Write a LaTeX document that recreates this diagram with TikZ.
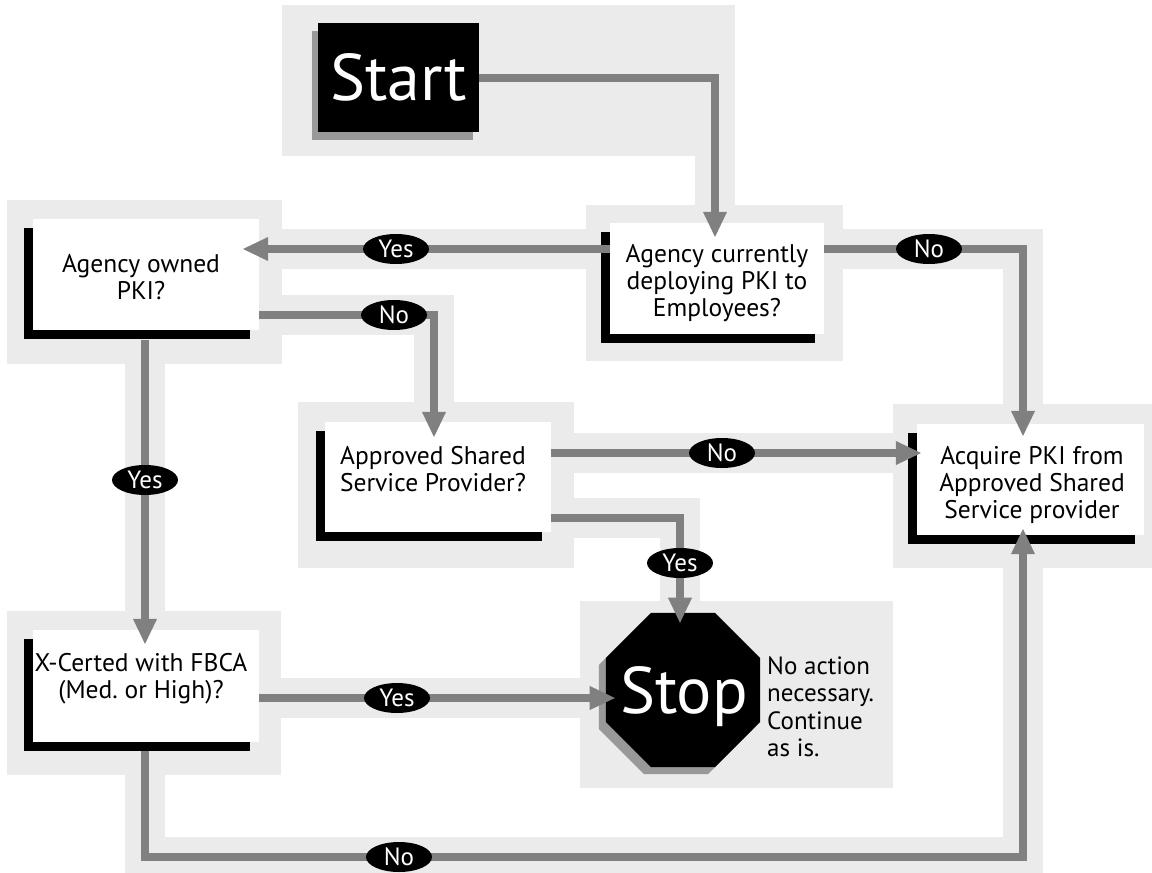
\documentclass[tikz,border=0pt]{standalone}
\usepackage{fontspec}
\setmainfont{PT Sans}
\frenchspacing
\usetikzlibrary{arrows.meta,shapes.geometric,shadows,backgrounds}
\definecolor{panel}{HTML}{EBEBEB}
\definecolor{arrowgray}{HTML}{808080}
\definecolor{shadowgray}{HTML}{999999}
\begin{document}
\begin{tikzpicture}[x=1pt,y=-1pt,
  panelbox/.style={fill=panel},
  halo/.style={draw=panel,line width=40pt,line join=miter},
  arr/.style={draw=arrowgray,line width=8pt,-{Triangle[length=26pt,width=22pt]}},
  qbox/.style={fill=white,inner sep=0pt,general shadow={fill=black,shadow xshift=-9pt,shadow yshift=-9pt}},
  qtext/.style={align=center,font=\fontsize{25.5}{27}\selectfont,inner sep=0pt},
  bigtext/.style={text=white,font=\fontsize{66}{66}\selectfont,inner sep=0pt},
  tag/.style={ellipse,fill=black,text=white,minimum width=66pt,minimum height=30pt,inner sep=0pt,font=\fontsize{25}{25}\selectfont},
]
\useasboundingbox (0,0) rectangle (1152,873);

% nodes
\node[bigtext,fill=black,minimum width=161pt,minimum height=109pt,
  general shadow={fill=shadowgray,shadow xshift=-6pt,shadow yshift=-8pt}] (st) at (398.5,77.5) {Start};

\node[qbox,minimum width=226pt,minimum height=111pt] (ao) at (146,274.5) {};
\node[qtext] (aot) at (141,277) {Agency owned\\PKI?};
\node[qbox,minimum width=214pt,minimum height=111pt] (ac) at (717,278.5) {};
\node[qtext] (act) at (717,283) {Agency currently\\deploying PKI to\\Employees?};
\node[qbox,minimum width=226pt,minimum height=110pt] (asp) at (438,477) {};
\node[qtext] (aspt) at (433,469) {Approved Shared\\Service Provider?};
\node[qbox,minimum width=227pt,minimum height=111pt] (aq) at (1030.5,479.5) {};
\node[qtext] (aqt) at (1032,485) {Acquire PKI from\\Approved Shared\\Service provider};
\node[qbox,minimum width=226pt,minimum height=112pt] (xc) at (146,686) {};
\node[qtext] (xct) at (141,678.5) {X-Certed with FBCA\\(Med. or High)?};

\node[regular polygon,regular polygon sides=8,minimum size=167pt,inner sep=0pt,fill=black,
  general shadow={fill=shadowgray,shadow xshift=-7pt,shadow yshift=-7pt}] (stop) at (683,690) {};
\node[bigtext] (stoptxt) at (684,697) {Stop};
\node[align=left,anchor=west,inner sep=0pt,font=\fontsize{25}{27.5}\selectfont] (stopt) at (767,707) {No action\\necessary.\\Continue\\as is.};

% background panels and bands
\begin{scope}[on background layer]
  \fill[panelbox] (282,5) rectangle (735,156);
  \fill[panelbox] (7,200) rectangle (282,364);
  \fill[panelbox] (586,205) rectangle (843,361);
  \fill[panelbox] (298,402) rectangle (574,568);
  \fill[panelbox] (893,404) rectangle (1152,568);
  \fill[panelbox] (7,611) rectangle (281,775);
  \fill[panelbox] (580,601) rectangle (893,788);
  \draw[halo] (st.east) -| (ac.north -| 715,0);
  \draw[halo] (ac.west |- 0,249) -- (ao.east |- 0,249);
  \draw[halo] (ac.east |- 0,249) -| (aq.north -| 1023,0);
  \draw[halo] (ao.east |- 0,315) -| (asp.north -| 434,0);
  \draw[halo] (ao.south -| 145,0) -- (xc.north -| 145,0);
  \draw[halo] (asp.east |- 0,453) -- (aq.west |- 0,453);
  \draw[halo] (asp.east |- 0,518) -| (stop.north -| 680,0);
  \draw[halo] (xc.east |- 0,698) -- (stop.west |- 0,698);
  \draw[halo] (xc.south -| 145,0) -- (145,857) -| (aq.south -| 1023,0);
\end{scope}

% connectors
\draw[arr,shorten >=-15pt] (st.east) -| (ac.north -| 715,0);
\draw[arr,shorten >=-17pt] (ac.west |- 0,249) -- (ao.east |- 0,249);
\draw[arr,shorten >=-13pt] (ac.east |- 0,249) -| (aq.north -| 1023,0);
\draw[arr,shorten >=-16pt] (ao.east |- 0,315) -| (asp.north -| 434,0);
\draw[arr,shorten <=10pt,shorten >=-15pt] (ao.south -| 145,0) -- (xc.north -| 145,0);
\draw[arr,shorten >=-5pt] (asp.east |- 0,453) -- (aq.west |- 0,453);
\draw[arr,shorten >=-11pt] (asp.east |- 0,518) -| (stop.north -| 680,0);
\draw[arr,shorten >=-10pt] (xc.east |- 0,698) -- (stop.west |- 0,698);
\draw[arr,shorten <=9pt,shorten >=-7pt] (xc.south -| 145,0) -- (145,857) -| (aq.south -| 1023,0);

% labels
\node[tag] (l1) at (396,249) {Yes};
\node[tag] (l2) at (394,315) {No};
\node[tag] (l3) at (929,249) {No};
\node[tag] (l4) at (722,453) {No};
\node[tag] (l5) at (680,563) {Yes};
\node[tag] (l6) at (145,480) {Yes};
\node[tag] (l7) at (397,698) {Yes};
\node[tag] (l8) at (399,857) {No};
\end{tikzpicture}
\end{document}
